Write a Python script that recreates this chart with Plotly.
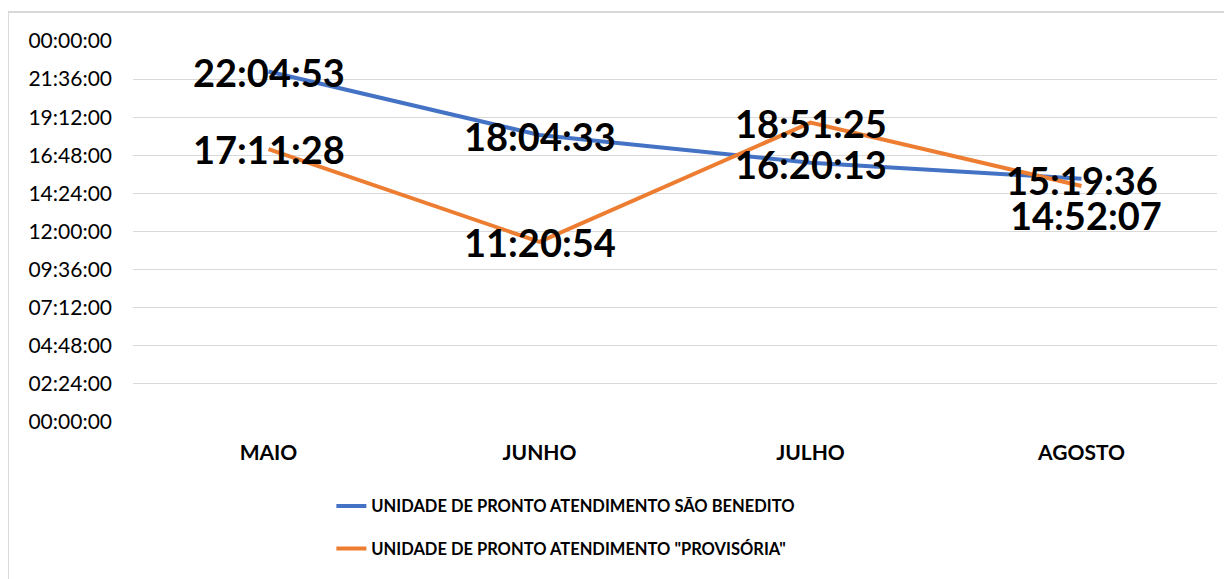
import plotly.graph_objects as go

# data
months = ['MAIO', 'JUNHO', 'JULHO', 'AGOSTO']
sao_benedito = ['22:04:53', '18:04:33', '16:20:13', '15:19:36']
provisoria = ['17:11:28', '11:20:54', '18:51:25', '14:52:07']
y_ticks = ['00:00:00', '02:24:00', '04:48:00', '07:12:00', '09:36:00', '12:00:00',
           '14:24:00', '16:48:00', '19:12:00', '21:36:00', '00:00:00']

name_blue = 'UNIDADE DE PRONTO ATENDIMENTO SÃO BENEDITO'
name_orange = 'UNIDADE DE PRONTO ATENDIMENTO "PROVISÓRIA"'


def to_hours(s):
    h, m, sec = [int(p) for p in s.split(':')]
    return h + m / 60 + sec / 3600


blue_h = [to_hours(v) for v in sao_benedito]
orange_h = [to_hours(v) for v in provisoria]

BLUE = '#4472C4'
ORANGE = '#ED7D31'
FONT = 'Lato'

fig = go.Figure()
fig.add_trace(go.Scatter(x=months, y=blue_h, mode='lines', name=name_blue,
                         line=dict(color=BLUE, width=4), legend='legend', cliponaxis=False))
fig.add_trace(go.Scatter(x=months, y=orange_h, mode='lines', name=name_orange,
                         line=dict(color=ORANGE, width=4), legend='legend2', cliponaxis=False))

# data labels, centred on the points (last orange one sits under its point)
label_font = dict(family=FONT, size=38, color='black', weight='bold')
for i, m in enumerate(months):
    fig.add_annotation(x=m, y=blue_h[i], text=sao_benedito[i], showarrow=False,
                       font=label_font, yshift=-1)
    if i == 3:
        fig.add_annotation(x=m, y=orange_h[i], text=provisoria[i], showarrow=False,
                           font=label_font, yshift=-29, xshift=4)
    else:
        fig.add_annotation(x=m, y=orange_h[i], text=provisoria[i], showarrow=False,
                           font=label_font, yshift=0)

# the page adds an 8px body margin, so the figure is 8px smaller
fig.update_layout(
    width=1224, height=571,
    margin=dict(l=125, r=15, t=33, b=157),
    paper_bgcolor='white', plot_bgcolor='white',
    font=dict(family=FONT, color='black'),
    showlegend=True,
    xaxis=dict(range=[-0.5, 3.5], showgrid=False, showline=False, ticks='', zeroline=False,
               automargin=False, tickfont=dict(family=FONT, size=21, weight='bold'),
               ticklabelstandoff=16),
    yaxis=dict(range=[0, 24], tickvals=[i * 2.4 for i in range(11)], ticktext=y_ticks,
               showgrid=True, gridcolor='#D9D9D9', gridwidth=1, zeroline=False,
               showline=False, ticks='', tickfont=dict(family=FONT, size=21),
               ticklabelstandoff=20, automargin=False),
    legend=dict(x=0.183, y=-0.221, xanchor='left', yanchor='middle', bgcolor='rgba(0,0,0,0)',
                font=dict(family=FONT, size=16.5, weight='bold')),
    legend2=dict(x=0.183, y=-0.333, xanchor='left', yanchor='middle', bgcolor='rgba(0,0,0,0)',
                 font=dict(family=FONT, size=16.5, weight='bold')),
)

# light frame around the chart area
fig.add_shape(type='rect', xref='paper', yref='paper', x0=-0.1153, x1=1.05, y0=-0.6, y1=1.0761,
              line=dict(color='#D9D9D9', width=2), fillcolor='rgba(0,0,0,0)', layer='below')

fig.write_html('out.html')
